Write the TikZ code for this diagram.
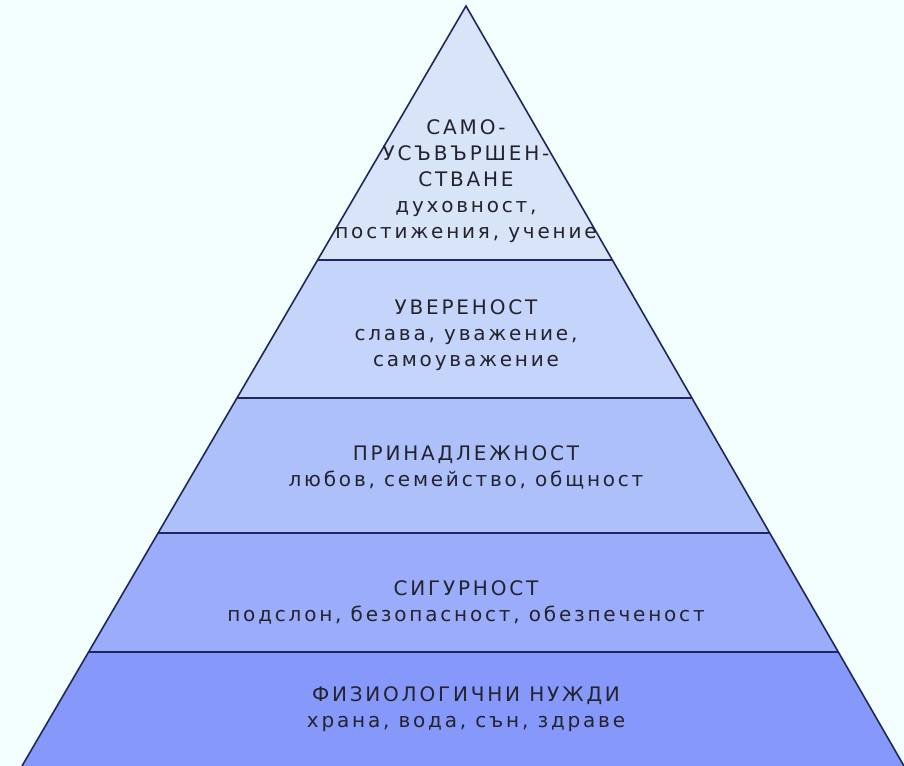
\documentclass[tikz,border=0pt]{standalone}
\usepackage{fontspec}
\newfontfamily\pyrfont[LetterSpace=14]{DejaVu Sans}
\usepackage{tikz}
\usetikzlibrary{calc}
\definecolor{bgcol}{RGB}{242,255,254}
\definecolor{edgecol}{RGB}{30,40,95}
\definecolor{layerA}{RGB}{216,228,248}
\definecolor{layerB}{RGB}{196,212,250}
\definecolor{layerC}{RGB}{174,192,250}
\definecolor{layerD}{RGB}{154,172,250}
\definecolor{layerE}{RGB}{134,152,250}
\definecolor{txtcol}{RGB}{35,35,45}
\newcommand{\layer}[3] % top y, bottom y, fill colour
{
	\fill[#3] ({466-0.5842*(#1-6)},#1) -- ({466+0.5763*(#1-6)},#1)
		-- ({466+0.5763*(#2-6)},#2) -- ({466-0.5842*(#2-6)},#2) -- cycle;
}
\newcommand{\divider}[1] % y
{
	\draw[edgecol, line width=1.5pt] ({466-0.5842*(#1-6)},#1) -- ({466+0.5763*(#1-6)},#1);
}
\tikzset{
	leveltext/.style={align=center, text=txtcol, inner sep=0pt,
		font=\pyrfont\fontsize{15}{19.5}\selectfont}
}
\begin{document}
\begin{tikzpicture}[x=0.75pt, y=-0.75pt]
	% 904 x 766 px, y grows downwards
	\fill[bgcol] (0,0) rectangle (904,766);
	\useasboundingbox (0,0) rectangle (904,766);
	
	\layer{6}{260}{layerA};
	\layer{260}{398}{layerB};
	\layer{398}{533}{layerC};
	\layer{533}{652}{layerD};
	\layer{652}{766}{layerE};
	
	\divider{260};
	\divider{398};
	\divider{533};
	\divider{652};
	
	% outline
	\draw[edgecol, line width=1.2pt] (22,766) -- (466,6) -- (904,766);
	
	\node[leveltext] (self) at (466,181) {САМО-\\УСЪВЪРШЕН-\\СТВАНЕ\\духовност,\\постижения, учение};
	\node[leveltext] (esteem) at (466,335) {УВЕРЕНОСТ\\слава, уважение,\\самоуважение};
	\node[leveltext] (belong) at (466,467) {ПРИНАДЛЕЖНОСТ\\любов, семейство, общност};
	\node[leveltext] (safety) at (466,602) {СИГУРНОСТ\\подслон, безопасност, обезпеченост};
	\node[leveltext] (body) at (466,709) {ФИЗИОЛОГИЧНИ НУЖДИ\\храна, вода, сън, здраве};
	
\end{tikzpicture}
\end{document}
